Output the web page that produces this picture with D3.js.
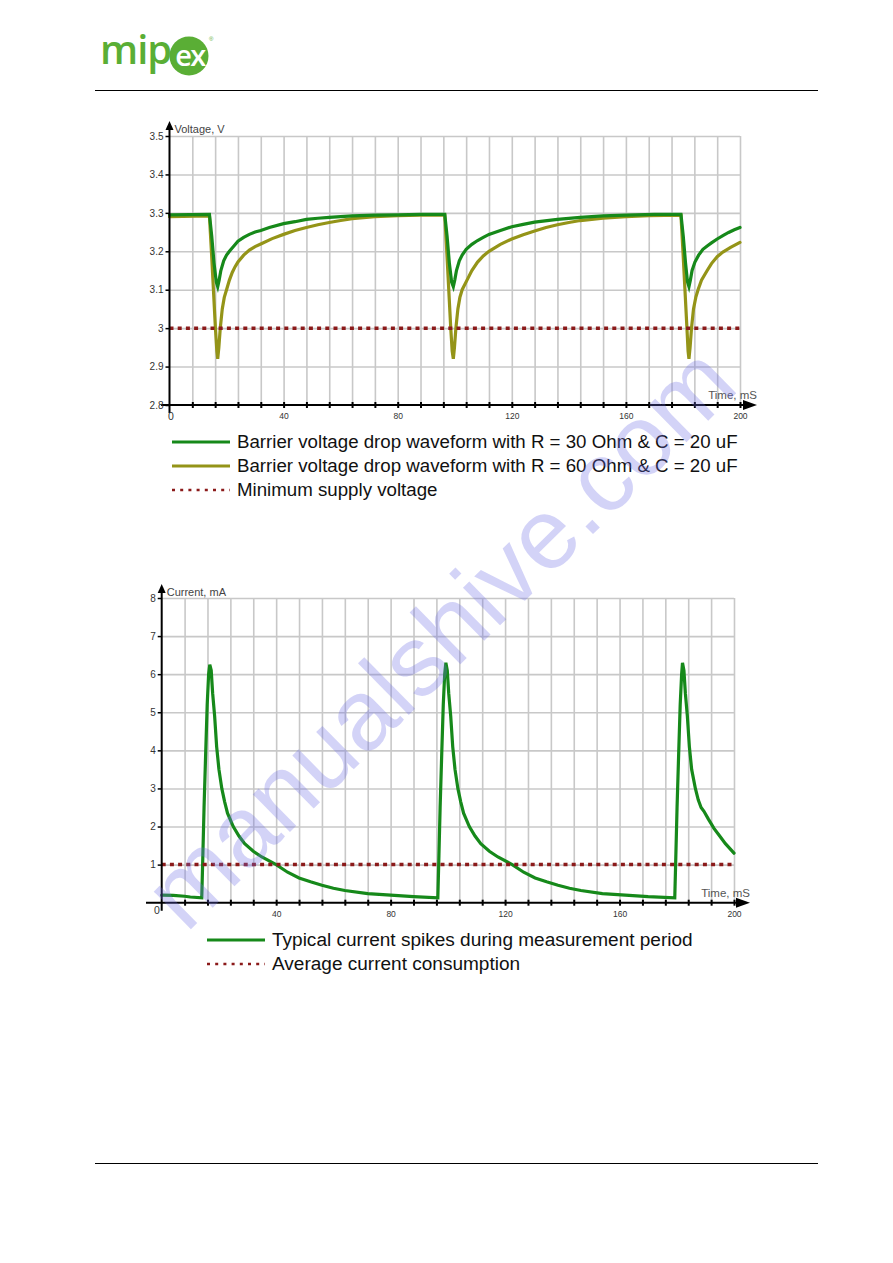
<!DOCTYPE html>
<html><head><meta charset="utf-8">
<script src="https://cdn.jsdelivr.net/npm/d3@7"></script>
<style>body{margin:0;background:#fff}svg{display:block}</style>
</head><body>
<svg id="c" width="893" height="1263"></svg>
<script>
// ---------------- DATA ----------------
const timeLabels = [40, 80, 120, 160, 200];
const gridTimes = [8,16,24,32,40,48,56,64,72,80,88,96,104,112,120,128,136,144,152,160,168,176,184,192,200];
const voltTicks = [3.5, 3.4, 3.3, 3.2, 3.1, 3.0, 2.9, 2.8];
const voltTickLabels = ["3.5", "3.4", "3.3", "3.2", "3.1", "3", "2.9", "2.8"];
const currTicks = [8, 7, 6, 5, 4, 3, 2, 1];
const currTickLabels = ["8", "7", "6", "5", "4", "3", "2", "1"];
const minSupplyVoltage = 3.0;
const avgCurrent = 1.0;

const voltR30 = [[0,3.295],[14,3.296],[14.8,3.24],[15.6,3.17],[16.4,3.12],[16.9,3.108],[17.4,3.125],[18,3.15],[19,3.175],[20,3.19],[21,3.2],[22.5,3.213],[24,3.226],[26,3.236],[28,3.244],[30,3.25],[32,3.254],[35,3.262],[40,3.272],[44,3.277],[48,3.283],[52,3.286],[56,3.288],[64,3.292],[72,3.294],[80,3.295],[88,3.296],[96.5,3.296],[97.3,3.24],[98.1,3.17],[98.9,3.12],[99.5,3.108],[100,3.125],[100.6,3.15],[101.6,3.175],[102.6,3.19],[104,3.205],[106,3.218],[108,3.228],[110,3.236],[112,3.244],[116,3.254],[120,3.264],[124,3.27],[128,3.276],[136,3.283],[144,3.288],[152,3.292],[160,3.294],[170,3.296],[179.3,3.296],[180.1,3.24],[180.9,3.17],[181.6,3.12],[182.1,3.108],[182.6,3.125],[183.2,3.15],[184.2,3.172],[185.5,3.19],[187,3.205],[188.5,3.214],[190,3.222],[192,3.232],[194,3.241],[196,3.249],[198,3.256],[200,3.262]];

const voltR60 = [[0,3.29],[14,3.292],[14.7,3.2],[15.4,3.1],[16.1,3.0],[16.6,2.94],[16.9,2.92],[17.3,2.95],[17.8,3.0],[18.5,3.05],[19.2,3.08],[20,3.1],[21,3.125],[22,3.145],[23,3.16],[24,3.172],[26,3.19],[28,3.203],[30,3.212],[32,3.219],[36,3.233],[40,3.244],[44,3.254],[48,3.262],[52,3.269],[56,3.275],[60,3.28],[64,3.285],[72,3.29],[80,3.293],[88,3.294],[96.5,3.294],[97.2,3.2],[97.9,3.1],[98.6,3.0],[99.1,2.94],[99.5,2.92],[99.9,2.95],[100.4,3.0],[101.1,3.05],[101.8,3.08],[102.6,3.1],[104.3,3.125],[106,3.15],[108,3.172],[110,3.188],[112,3.2],[116,3.218],[120,3.232],[124,3.243],[128,3.253],[132,3.262],[136,3.269],[140,3.275],[144,3.28],[152,3.286],[160,3.29],[168,3.293],[179.3,3.294],[180,3.2],[180.7,3.1],[181.4,3.0],[181.8,2.94],[182.1,2.92],[182.5,2.95],[183,3.0],[183.7,3.05],[184.5,3.08],[185.3,3.1],[186.5,3.125],[188.5,3.15],[190,3.168],[192,3.186],[194,3.198],[196.7,3.21],[200,3.223]];

const currentSpikes = [[0,0.2],[4,0.19],[8,0.17],[10,0.15],[14,0.13],[14.3,1],[14.8,2.5],[15.4,4],[15.9,5.2],[16.4,6.0],[16.8,6.25],[17.3,6.1],[17.8,5.5],[18.5,4.9],[19.2,4.1],[20,3.5],[21,3.0],[22,2.65],[23,2.35],[25,2.0],[27,1.75],[29,1.55],[32,1.35],[35,1.2],[40,1.0],[44,0.8],[48,0.65],[52,0.55],[56,0.46],[60,0.38],[64,0.32],[72,0.24],[80,0.2],[88,0.16],[96.5,0.13],[96.8,1],[97.3,2.5],[97.9,4],[98.4,5.2],[98.9,6.0],[99.3,6.3],[99.8,6.1],[100.3,5.5],[101,4.9],[101.7,4.1],[102.5,3.5],[103.5,3.0],[104.5,2.65],[105.5,2.35],[107.5,2.0],[109.5,1.75],[111.5,1.55],[114.5,1.35],[117.5,1.2],[122.5,1.0],[126.5,0.8],[130.5,0.65],[134.5,0.55],[138.5,0.46],[142.5,0.38],[146.5,0.32],[154,0.24],[162,0.2],[170,0.16],[179.3,0.13],[179.6,1],[180.1,2.5],[180.7,4],[181.2,5.2],[181.7,6.0],[182.0,6.3],[182.5,6.1],[183,5.5],[183.7,4.9],[184.4,4.1],[185.2,3.5],[186.5,3.0],[187.5,2.7],[188.5,2.5],[189.5,2.4],[191,2.2],[193,1.95],[195,1.75],[197,1.55],[200,1.3]];

const legendTop = ["Barrier voltage drop waveform with R = 30 Ohm & C = 20 uF", "Barrier voltage drop waveform with R = 60 Ohm & C = 20 uF", "Minimum supply voltage"];
const legendBottom = ["Typical current spikes during measurement period", "Average current consumption"];

// ---------------- STYLE ----------------
const GREEN = "#16891a", OLIVE = "#949418", RED = "#8b1a1a", GRID = "#c8c8c8";
const FONT = "'Liberation Sans', Arial, sans-serif";
const svg = d3.select("#c");

// header / footer
const logo = svg.append("g");
logo.append("text").attr("x", 100).attr("y", 64).attr("font-family", "'Open Sans', 'Liberation Sans', sans-serif")
  .attr("font-size", 40).attr("font-weight", 600).attr("fill", "#5aae35").attr("letter-spacing", -1).text("mip");
logo.append("circle").attr("cx", 189).attr("cy", 56).attr("r", 19.5).attr("fill", "#5aae35");
logo.append("text").attr("x", 190).attr("y", 66).attr("text-anchor", "middle").attr("font-family", "'Open Sans', 'Liberation Sans', sans-serif")
  .attr("font-size", 29).attr("font-weight", 600).attr("fill", "#fff").attr("letter-spacing", -1.5).text("ex");
logo.append("text").attr("x", 209).attr("y", 41).attr("font-family", FONT).attr("font-size", 6).attr("fill", "#5aae35").text("®");
svg.append("line").attr("x1", 95).attr("x2", 818).attr("y1", 90.5).attr("y2", 90.5).attr("stroke", "#000").attr("stroke-width", 1);
svg.append("line").attr("x1", 95).attr("x2", 818).attr("y1", 1163.5).attr("y2", 1163.5).attr("stroke", "#000").attr("stroke-width", 1);

function drawChart(cfg) {
  const g = svg.append("g");
  const x = d3.scaleLinear().domain([0, 200]).range([cfg.left, cfg.right]);
  const y = d3.scaleLinear().domain(cfg.yDomain).range([cfg.bottom, cfg.top]);

  // vertical grid
  g.append("g").attr("transform", `translate(0,${cfg.bottom})`)
    .call(d3.axisBottom(x).tickValues(gridTimes).tickSize(-(cfg.bottom - cfg.top)).tickFormat(""))
    .call(a => { a.select(".domain").remove(); a.selectAll("line").attr("stroke", GRID).attr("stroke-width", 1.6); });
  // horizontal grid
  g.append("g").attr("transform", `translate(${cfg.left},0)`)
    .call(d3.axisLeft(y).tickValues(cfg.gridY).tickSize(-(cfg.right - cfg.left)).tickFormat(""))
    .call(a => { a.select(".domain").remove(); a.selectAll("line").attr("stroke", GRID).attr("stroke-width", 1.6); });

  // series
  const line = d3.line().x(d => x(d[0])).y(d => y(d[1]));
  cfg.series.forEach(s => {
    g.append("path").datum(s.data).attr("d", line).attr("fill", "none").attr("stroke", s.color)
      .attr("stroke-width", 3.2).attr("stroke-linejoin", "miter").attr("stroke-linecap", "round");
  });
  // threshold
  g.append("line").attr("x1", x(0)).attr("x2", x(200)).attr("y1", y(cfg.threshold)).attr("y2", y(cfg.threshold))
    .attr("stroke", RED).attr("stroke-width", 3.5).attr("stroke-dasharray", "4,4.2");

  // x axis
  const xa = g.append("g").attr("transform", `translate(0,${cfg.bottom})`)
    .call(d3.axisBottom(x).tickValues(gridTimes).tickSize(3).tickFormat(d => timeLabels.includes(d) ? d : ""));
  xa.select(".domain").remove();
  xa.selectAll(".tick line").attr("y1", -3).attr("y2", 3).attr("stroke", "#000").attr("stroke-width", 2);
  xa.selectAll(".tick text").attr("y", cfg.xLabelDy).attr("dy", 0).attr("font-family", FONT).attr("font-size", 8.5).attr("fill", "#333");
  g.append("line").attr("x1", cfg.xAxisStart).attr("x2", cfg.arrowX - 8).attr("y1", cfg.bottom).attr("y2", cfg.bottom)
    .attr("stroke", "#000").attr("stroke-width", 2);
  g.append("path").attr("d", `M${cfg.arrowX},${cfg.bottom} L${cfg.arrowX - 14},${cfg.bottom - 5} L${cfg.arrowX - 14},${cfg.bottom + 5} Z`).attr("fill", "#000");

  // y axis
  const ya = g.append("g").attr("transform", `translate(${cfg.left},0)`)
    .call(d3.axisLeft(y).tickValues(cfg.yTicks).tickSize(4).tickFormat((d, i) => cfg.yLabels[i]));
  ya.select(".domain").remove();
  ya.selectAll(".tick line").attr("stroke", "#000").attr("stroke-width", 1.5);
  ya.selectAll(".tick text").attr("x", -6).attr("font-family", FONT).attr("font-size", 10).attr("fill", "#333");
  g.append("line").attr("x1", cfg.left).attr("x2", cfg.left).attr("y1", cfg.bottom + 8).attr("y2", cfg.arrowY + 6)
    .attr("stroke", "#000").attr("stroke-width", 2);
  g.append("path").attr("d", `M${cfg.left},${cfg.arrowY} L${cfg.left - 4},${cfg.arrowY + 9} L${cfg.left + 4},${cfg.arrowY + 9} Z`).attr("fill", "#000");

  // zero label
  g.append("text").attr("x", cfg.zeroX).attr("y", cfg.zeroY).attr("text-anchor", "middle").attr("font-family", FONT)
    .attr("font-size", 10.5).attr("fill", "#333").text("0");
  // axis titles
  g.append("text").attr("x", cfg.left + 5).attr("y", cfg.yTitleY).attr("font-family", FONT).attr("font-size", 11)
    .attr("fill", "#444").text(cfg.yTitle);
  g.append("text").attr("x", cfg.arrowX).attr("y", cfg.bottom - 6).attr("text-anchor", "end").attr("font-family", FONT)
    .attr("font-size", 11.5).attr("fill", "#555").text("Time, mS");

  // legend
  cfg.legend.forEach((lab, i) => {
    const ly = cfg.legendY + i * 24;
    const it = cfg.legendItems[i];
    g.append("line").attr("x1", cfg.legendX).attr("x2", cfg.legendX + 58).attr("y1", ly - 6).attr("y2", ly - 6)
      .attr("stroke", it.color).attr("stroke-width", it.dotted ? 2.6 : 3.2)
      .attr("stroke-dasharray", it.dotted ? "3,5.2" : null);
    const t = g.append("text").attr("x", cfg.legendX + 65).attr("y", ly).attr("font-family", FONT)
      .attr("font-size", 17).attr("fill", "#111").text(lab);
    if (i === 0) {
      const w = t.node().getComputedTextLength();
      cfg.legendFont = 17 * cfg.legendWidth / w;
    }
    t.attr("font-size", cfg.legendFont);
  });
}

drawChart({
  left: 169.5, right: 740, top: 136, bottom: 405, yDomain: [2.8, 3.5],
  gridY: [3.5, 3.4, 3.3, 3.2, 3.1, 3.0, 2.9], yTicks: voltTicks, yLabels: voltTickLabels,
  series: [{ data: voltR60, color: OLIVE }, { data: voltR30, color: GREEN }],
  threshold: minSupplyVoltage, xLabelDy: 14, xAxisStart: 161, arrowX: 757, arrowY: 121,
  zeroX: 171, zeroY: 420, yTitle: "Voltage, V", yTitleY: 133,
  legend: legendTop, legendItems: [{ color: GREEN }, { color: OLIVE }, { color: RED, dotted: true }],
  legendX: 172, legendY: 448, legendWidth: 501
});
drawChart({
  left: 161.7, right: 734, top: 598, bottom: 902.7, yDomain: [0, 8],
  gridY: [8, 7, 6, 5, 4, 3, 2, 1], yTicks: currTicks, yLabels: currTickLabels,
  series: [{ data: currentSpikes, color: GREEN }],
  threshold: avgCurrent, xLabelDy: 14, xAxisStart: 146, arrowX: 750, arrowY: 584,
  zeroX: 157, zeroY: 914, yTitle: "Current, mA", yTitleY: 596,
  legend: legendBottom, legendItems: [{ color: GREEN }, { color: RED, dotted: true }],
  legendX: 207, legendY: 946, legendWidth: 421
});

// watermark
svg.append("text").attr("transform", "translate(186,934) rotate(-44.5)").attr("font-family", FONT)
  .attr("font-size", 100).attr("fill", "rgb(110,110,230)").attr("fill-opacity", 0.3).text("manualshive.com");
</script>
</body></html>
